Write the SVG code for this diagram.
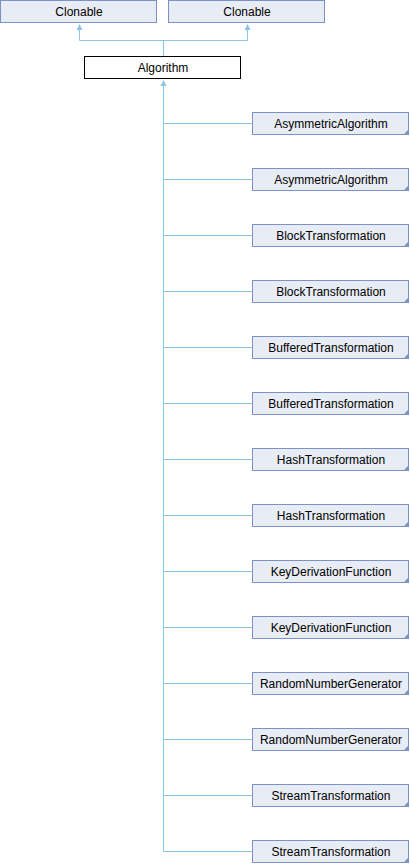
<svg xmlns="http://www.w3.org/2000/svg" width="410" height="864" viewBox="0 0 410 864">
  <style>
    .node rect { fill: #E8ECF5; stroke: #7A92C8; stroke-width: 1; }
    .node.main rect { fill: #FFFFFF; stroke: #000000; }
    .node text { font-family: "Liberation Sans", Arial, sans-serif; font-size: 12px; fill: #000000; text-anchor: middle; }
    .fold { fill: #7A92C8; }
    .edge { stroke: #8CC4E6; stroke-width: 1; fill: none; }
    .head { fill: #8CC4E6; }
  </style>
  <rect width="410" height="864" fill="#FFFFFF"/>

  <!-- inheritance connectors -->
  <g id="connectors">
    <path class="edge" d="M79.5,29 V40.5 H247.5 V29"/>
    <path class="edge" d="M163.5,40.5 V56"/>
    <polygon class="head" points="79.5,24 76.5,30 82.5,30"/>
    <polygon class="head" points="247.5,24 244.5,30 250.5,30"/>
    <path class="edge" d="M163.5,85 V851.5"/>
    <polygon class="head" points="163.5,80 160.5,86 166.5,86"/>
    <path class="edge" d="M163.5,123.5 H252 M163.5,179.5 H252 M163.5,235.5 H252 M163.5,291.5 H252 M163.5,347.5 H252 M163.5,403.5 H252 M163.5,459.5 H252 M163.5,515.5 H252 M163.5,571.5 H252 M163.5,627.5 H252 M163.5,683.5 H252 M163.5,739.5 H252 M163.5,795.5 H252 M163.5,851.5 H252"/>
  </g>

  <g id="clonable1" class="node">
    <rect x="0.5" y="0.5" width="156" height="22"/>
    <text x="79" y="15.5">Clonable</text>
  </g>
  <g id="clonable2" class="node">
    <rect x="168.5" y="0.5" width="156" height="22"/>
    <text x="247" y="15.5">Clonable</text>
  </g>
  <g id="algorithm" class="node main">
    <rect x="84.5" y="56.5" width="156" height="22"/>
    <text x="163" y="71.5">Algorithm</text>
  </g>

  <g id="asymmetricalgorithm1" class="node" transform="translate(0,112)">
    <rect x="252.5" y="0.5" width="156" height="22"/>
    <polygon class="fold" points="409,17 409,23 403,23"/>
    <text x="331" y="15.5">AsymmetricAlgorithm</text>
  </g>
  <g id="asymmetricalgorithm2" class="node" transform="translate(0,168)">
    <rect x="252.5" y="0.5" width="156" height="22"/>
    <polygon class="fold" points="409,17 409,23 403,23"/>
    <text x="331" y="15.5">AsymmetricAlgorithm</text>
  </g>
  <g id="blocktransformation1" class="node" transform="translate(0,224)">
    <rect x="252.5" y="0.5" width="156" height="22"/>
    <polygon class="fold" points="409,17 409,23 403,23"/>
    <text x="331" y="15.5">BlockTransformation</text>
  </g>
  <g id="blocktransformation2" class="node" transform="translate(0,280)">
    <rect x="252.5" y="0.5" width="156" height="22"/>
    <polygon class="fold" points="409,17 409,23 403,23"/>
    <text x="331" y="15.5">BlockTransformation</text>
  </g>
  <g id="bufferedtransformation1" class="node" transform="translate(0,336)">
    <rect x="252.5" y="0.5" width="156" height="22"/>
    <polygon class="fold" points="409,17 409,23 403,23"/>
    <text x="331" y="15.5">BufferedTransformation</text>
  </g>
  <g id="bufferedtransformation2" class="node" transform="translate(0,392)">
    <rect x="252.5" y="0.5" width="156" height="22"/>
    <polygon class="fold" points="409,17 409,23 403,23"/>
    <text x="331" y="15.5">BufferedTransformation</text>
  </g>
  <g id="hashtransformation1" class="node" transform="translate(0,448)">
    <rect x="252.5" y="0.5" width="156" height="22"/>
    <polygon class="fold" points="409,17 409,23 403,23"/>
    <text x="331" y="15.5">HashTransformation</text>
  </g>
  <g id="hashtransformation2" class="node" transform="translate(0,504)">
    <rect x="252.5" y="0.5" width="156" height="22"/>
    <polygon class="fold" points="409,17 409,23 403,23"/>
    <text x="331" y="15.5">HashTransformation</text>
  </g>
  <g id="keyderivationfunction1" class="node" transform="translate(0,560)">
    <rect x="252.5" y="0.5" width="156" height="22"/>
    <polygon class="fold" points="409,17 409,23 403,23"/>
    <text x="331" y="15.5">KeyDerivationFunction</text>
  </g>
  <g id="keyderivationfunction2" class="node" transform="translate(0,616)">
    <rect x="252.5" y="0.5" width="156" height="22"/>
    <polygon class="fold" points="409,17 409,23 403,23"/>
    <text x="331" y="15.5">KeyDerivationFunction</text>
  </g>
  <g id="randomnumbergenerator1" class="node" transform="translate(0,672)">
    <rect x="252.5" y="0.5" width="156" height="22"/>
    <polygon class="fold" points="409,17 409,23 403,23"/>
    <text x="331" y="15.5">RandomNumberGenerator</text>
  </g>
  <g id="randomnumbergenerator2" class="node" transform="translate(0,728)">
    <rect x="252.5" y="0.5" width="156" height="22"/>
    <polygon class="fold" points="409,17 409,23 403,23"/>
    <text x="331" y="15.5">RandomNumberGenerator</text>
  </g>
  <g id="streamtransformation1" class="node" transform="translate(0,784)">
    <rect x="252.5" y="0.5" width="156" height="22"/>
    <polygon class="fold" points="409,17 409,23 403,23"/>
    <text x="331" y="15.5">StreamTransformation</text>
  </g>
  <g id="streamtransformation2" class="node" transform="translate(0,840)">
    <rect x="252.5" y="0.5" width="156" height="22"/>
    <polygon class="fold" points="409,17 409,23 403,23"/>
    <text x="331" y="15.5">StreamTransformation</text>
  </g>
</svg>
